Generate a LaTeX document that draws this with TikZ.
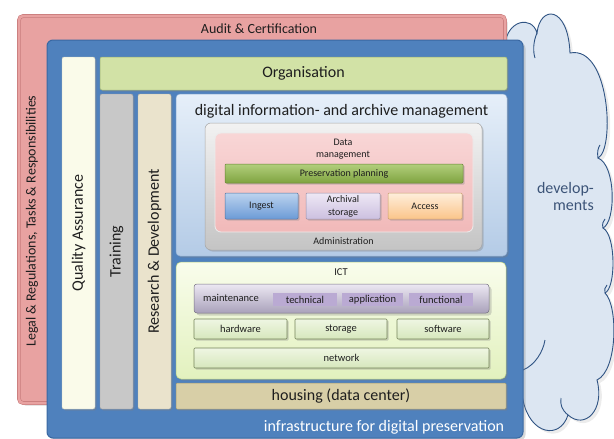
\documentclass[tikz,border=0pt]{standalone}
\usepackage{fontspec}
\setmainfont{Carlito}
\usetikzlibrary{shadows}
\definecolor{txt}{HTML}{1E1E1E}
\definecolor{pinkfill}{HTML}{E8A2A1}
\definecolor{pinkline}{HTML}{C97C7C}
\definecolor{bluefill}{HTML}{4F81BD}
\definecolor{blueline}{HTML}{3A68A2}
\definecolor{qafill}{HTML}{FAFBEA}
\definecolor{trfill}{HTML}{C8C8C8}
\definecolor{rdfill}{HTML}{EAE3CC}
\definecolor{orgfill}{HTML}{D2E2A6}
\definecolor{orgline}{HTML}{9DB274}
\definecolor{diamtop}{HTML}{E6EFF9}
\definecolor{diambot}{HTML}{B4CBE6}
\definecolor{diamline}{HTML}{8FAED3}
\definecolor{admtop}{HTML}{F2F2F2}
\definecolor{admbot}{HTML}{C4C4C4}
\definecolor{pnktop}{HTML}{F8D6D6}
\definecolor{pnkbot}{HTML}{F1B9B9}
\definecolor{pptop}{HTML}{B2CF7C}
\definecolor{ppbot}{HTML}{7FA340}
\definecolor{ingtop}{HTML}{BCD3EF}
\definecolor{ingbot}{HTML}{6C9BD6}
\definecolor{arctop}{HTML}{EEE8F5}
\definecolor{arcbot}{HTML}{CCC0E0}
\definecolor{acctop}{HTML}{FEEEDB}
\definecolor{accbot}{HTML}{FBC58A}
\definecolor{icttop}{HTML}{F9FDEC}
\definecolor{ictbot}{HTML}{E2F1BE}
\definecolor{ictline}{HTML}{B6CE82}
\definecolor{mttop}{HTML}{ECE8F3}
\definecolor{mtbot}{HTML}{A9A1BA}
\definecolor{tagfill}{HTML}{BAAAD3}
\definecolor{hwtop}{HTML}{EFF6E3}
\definecolor{hwbot}{HTML}{D6E7BC}
\definecolor{hwline}{HTML}{75845A}
\definecolor{housefill}{HTML}{D8CFA7}
\definecolor{houseline}{HTML}{A39A72}
\definecolor{cloudfill}{HTML}{DCE6F2}
\definecolor{cloudline}{HTML}{2F5383}
\definecolor{cloudtxt}{HTML}{3C5478}
\tikzset{
  box/.style={rectangle, rounded corners=2pt, inner sep=0pt, align=center, text=txt},
  sh/.style={drop shadow={opacity=0.35, shadow xshift=1.5pt, shadow yshift=-1.5pt}},
  bigsh/.style={drop shadow={opacity=0.3, shadow xshift=2.5pt, shadow yshift=-2.5pt}},
  bigf/.style={font=\fontsize{16}{19}\selectfont},
  midf/.style={font=\fontsize{14}{17}\selectfont},
  smallf/.style={font=\fontsize{10}{12}\selectfont},
  ictf/.style={font=\fontsize{10.5}{12}\selectfont},
  lbl/.style={inner sep=0pt, text=txt, align=center},
}
\begin{document}
\begin{tikzpicture}[x=1pt,y=-1pt]
\useasboundingbox (0,0) rectangle (614,439);
% cloud
\path[fill=cloudfill, draw=cloudline, line width=0.9pt, drop shadow={opacity=0.15, shadow xshift=3pt, shadow yshift=-3pt}]
  (480,60) -- (505,45)
  .. controls (507,20) and (532,15) .. (537,33)
  .. controls (540,5) and (568,5) .. (570,53)
  .. controls (610,45) and (615,150) .. (598,158)
  .. controls (616,165) and (616,222) .. (603,228)
  .. controls (616,235) and (616,288) .. (605,293)
  .. controls (618,305) and (618,370) .. (597,380)
  .. controls (605,410) and (585,430) .. (568,415)
  .. controls (560,440) and (530,435) .. (523,400)
  .. controls (518,380) and (510,370) .. (500,370)
  -- (480,370) -- cycle;
\draw[cloudline, line width=0.9pt]
  (537,33) .. controls (533,42) and (533,52) .. (535,58)
  (598,158) .. controls (597,152) and (598,148) .. (600,145)
  (603,228) .. controls (602,224) and (603,221) .. (605,219)
  (605,293) .. controls (604,290) and (605,287) .. (607,285)
  (568,415) .. controls (562,410) and (560,405) .. (561,398)
  (523,370) .. controls (535,365) and (543,352) .. (545,340);
\node[lbl, anchor=east, text=cloudtxt, align=right, font=\fontsize{16}{17}\selectfont] (dev) at (594,197) {develop-\\ments};
% pink
\node[box, rounded corners=4pt, fill=pinkfill, draw=pinkline, double=pinkfill, double distance=2.5pt, line width=0.6pt, bigsh, minimum width=486pt, minimum height=387pt] (audit) at (262,209.5) {};
\node[lbl, midf] (auditl) at (259,29) {Audit \& Certification};
\node[lbl, midf, rotate=90] (legal) at (32,221) {Legal \& Regulations, Tasks \& Responsibilities};
% blue
\node[box, rounded corners=6pt, fill=bluefill, draw=blueline, line width=1pt, bigsh, minimum width=476pt, minimum height=398pt] (infra) at (285,239) {};
\node[lbl, bigf, text=white] (infral) at (384,427) {infrastructure for digital preservation};
% columns
\node[box, fill=qafill, draw=qafill!80!black, line width=0.4pt, sh, rotate=90, minimum width=352pt, minimum height=33pt, bigf] (qa) at (78.5,233) {Quality Assurance};
\node[box, fill=trfill, draw=trfill!80!black, line width=0.4pt, sh, rotate=90, minimum width=315pt, minimum height=33pt, bigf] (tr) at (116.5,251.5) {Training};
\node[box, fill=rdfill, draw=rdfill!80!black, line width=0.4pt, sh, rotate=90, minimum width=315pt, minimum height=33pt, bigf] (rd) at (154.5,251.5) {Research \& Development};
% organisation
\node[box, fill=orgfill, draw=orgline, line width=0.5pt, sh, minimum width=407pt, minimum height=33pt, bigf] (org) at (303.5,73.5) {Organisation};
% digital information and archive management
\node[box, rounded corners=4pt, top color=diamtop, bottom color=diambot, draw=diamline, line width=0.5pt, sh, minimum width=331pt, minimum height=162pt] (diam) at (341.5,175) {};
\node[lbl, bigf] (diaml) at (341.5,111) {digital information- and archive management};
\node[box, rounded corners=6pt, top color=admtop, bottom color=admbot, draw=gray!70, line width=0.5pt, sh, minimum width=277pt, minimum height=127pt] (adm) at (343.5,186.5) {};
\node[box, rounded corners=6pt, top color=pnktop, bottom color=pnkbot, draw=white!85!gray, line width=0.8pt, minimum width=258pt, minimum height=99pt] (dm) at (344,182.5) {};
\node[lbl, smallf] (dml) at (343,149) {Data\\management};
\node[lbl, smallf] (adml) at (343.5,241) {Administration};
\node[box, rounded corners=1pt, top color=pptop, bottom color=ppbot, draw=ppbot!80!black, line width=0.5pt, sh, minimum width=238pt, minimum height=19pt, smallf] (pp) at (344,173.5) {Preservation planning};
\node[box, rounded corners=1pt, top color=ingtop, bottom color=ingbot, draw=ingbot!75!black, line width=0.5pt, sh, minimum width=73pt, minimum height=26pt, smallf] (ing) at (261.5,206) {Ingest};
\node[box, rounded corners=1pt, top color=arctop, bottom color=arcbot, draw=arcbot!75!black, line width=0.5pt, sh, minimum width=74pt, minimum height=26pt, font=\fontsize{10}{13}\selectfont] (arc) at (343,206) {Archival\\storage};
\node[box, rounded corners=1pt, top color=acctop, bottom color=accbot, draw=accbot!80!black, line width=0.5pt, sh, minimum width=74pt, minimum height=26pt, smallf] (acc) at (425,206) {Access};
% ICT
\node[box, rounded corners=5pt, top color=icttop, bottom color=ictbot, draw=ictline, line width=0.5pt, sh, minimum width=330pt, minimum height=117pt] (ict) at (341,320.5) {};
\node[lbl, ictf] (ictl) at (341,272) {ICT};
\node[box, rounded corners=3pt, top color=mttop, bottom color=mtbot, draw=mtbot!70!black, line width=0.5pt, bigsh, minimum width=295pt, minimum height=29pt] (mt) at (341.5,298.5) {};
\node[lbl, ictf] (mtl) at (231,298) {maintenance};
\node[box, rounded corners=0pt, fill=tagfill, minimum width=64pt, minimum height=13pt, ictf] (tech) at (305,299.5) {technical};
\node[box, rounded corners=0pt, fill=tagfill, minimum width=61pt, minimum height=13pt, ictf] (appl) at (372.5,299.5) {application};
\node[box, rounded corners=0pt, fill=tagfill, minimum width=64pt, minimum height=13pt, ictf] (func) at (441,299.5) {functional};
\node[box, rounded corners=1pt, top color=hwtop, bottom color=hwbot, draw=hwline, line width=0.6pt, sh, minimum width=93pt, minimum height=20pt, ictf] (hw) at (240.5,329) {hardware};
\node[box, rounded corners=1pt, top color=hwtop, bottom color=hwbot, draw=hwline, line width=0.6pt, sh, minimum width=92pt, minimum height=20pt, ictf] (st) at (341,329) {storage};
\node[box, rounded corners=1pt, top color=hwtop, bottom color=hwbot, draw=hwline, line width=0.6pt, sh, minimum width=92pt, minimum height=20pt, ictf] (sw) at (443,329) {software};
\node[box, rounded corners=1pt, top color=hwtop, bottom color=hwbot, draw=hwline, line width=0.6pt, sh, minimum width=295pt, minimum height=20pt, ictf] (net) at (341.5,358) {network};
% housing
\node[box, rounded corners=1pt, fill=housefill, draw=houseline, line width=0.5pt, sh, minimum width=330pt, minimum height=26pt, bigf] (house) at (341,396) {housing (data center)};
\end{tikzpicture}
\end{document}
